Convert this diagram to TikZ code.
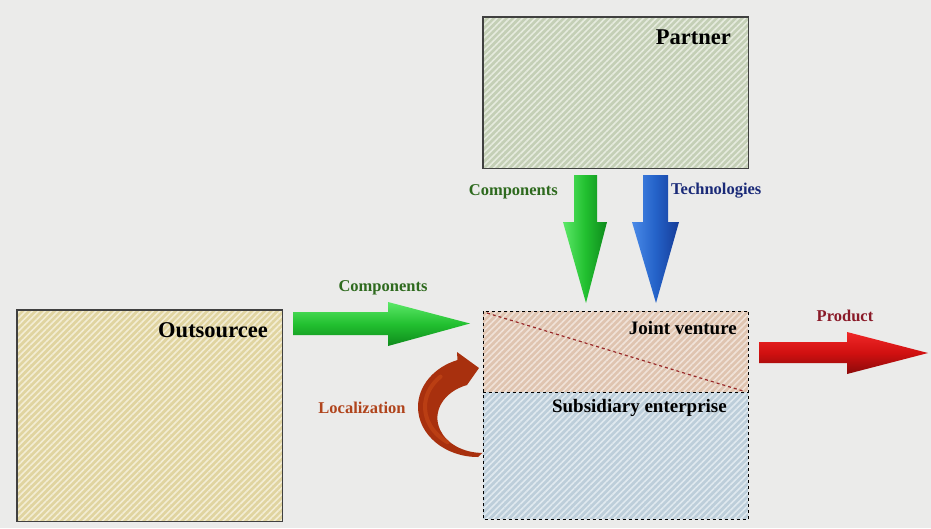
\documentclass[tikz,border=0pt]{standalone}
\usepackage{fontspec}
\setmainfont{Liberation Serif}
\usetikzlibrary{patterns.meta}
\definecolor{bg}{HTML}{EBEBEA}
\definecolor{partnerA}{HTML}{C4CFB6}\definecolor{partnerB}{HTML}{E6EBDE}
\definecolor{outA}{HTML}{E0D4A0}\definecolor{outB}{HTML}{F3EDD4}
\definecolor{jvA}{HTML}{DFC4B0}\definecolor{jvB}{HTML}{F0E2D8}
\definecolor{subA}{HTML}{BDCEDA}\definecolor{subB}{HTML}{E0E9EF}
\definecolor{txtgreen}{HTML}{2E6A1E}
\definecolor{txtblue}{HTML}{1A2A78}
\definecolor{txtorange}{HTML}{B0441C}
\definecolor{txtred}{HTML}{8A1A28}
\definecolor{diag}{HTML}{982828}
\definecolor{gLight}{HTML}{5CE868}\definecolor{gMid}{HTML}{22C030}\definecolor{gDark}{HTML}{0E8A1C}
\definecolor{bLight}{HTML}{4A8AE8}\definecolor{bMid}{HTML}{2462C8}\definecolor{bDark}{HTML}{163C98}
\definecolor{rLight}{HTML}{F02828}\definecolor{rMid}{HTML}{D01010}\definecolor{rDark}{HTML}{8A0A0A}
\definecolor{locBase}{HTML}{A8300E}\definecolor{locHi}{HTML}{D2501A}
\tikzset{
  hatchbox/.style 2 args={fill=#1, postaction={pattern={Lines[angle=45,distance=4.5pt,line width=1.6pt]}, pattern color=#2}},
  boxnode/.style={inner sep=0pt, anchor=north west},
  solidline/.style={draw=black!75, line width=1.4pt},
  dashline/.style={draw=black, dashed, line width=0.9pt},
  bigtxt/.style={font=\bfseries\fontsize{22.5}{24}\selectfont, inner sep=0pt},
  midtxt/.style={font=\bfseries\fontsize{19}{21}\selectfont, inner sep=0pt},
  smalltxt/.style={font=\bfseries\fontsize{16.5}{18}\selectfont, inner sep=0pt},
  greenH/.style={top color=gLight, bottom color=gDark, middle color=gMid},
  greenV/.style={left color=gLight, right color=gDark, middle color=gMid},
  blueV/.style={left color=bLight, right color=bDark, middle color=bMid},
  redH/.style={top color=rLight, bottom color=rDark, middle color=rMid},
}
\begin{document}
\begin{tikzpicture}[x=1pt,y=-1pt]
\fill[bg] (0,0) rectangle (931,528);
\useasboundingbox (0,0) rectangle (931,528);

% boxes
\node[boxnode, hatchbox={partnerA}{partnerB}, minimum width=265pt, minimum height=151pt] (partner) at (483,17) {};
\node[boxnode, hatchbox={outA}{outB}, minimum width=265pt, minimum height=211pt] (outs) at (17,310) {};
\node[boxnode, hatchbox={jvA}{jvB}, minimum width=265pt, minimum height=81pt] (jv) at (483,311) {};
\node[boxnode, hatchbox={subA}{subB}, minimum width=265pt, minimum height=127pt] (sub) at (483,392) {};
\draw[solidline] (partner.north west) rectangle (partner.south east);
\draw[solidline] (outs.north west) rectangle (outs.south east);
\draw[dashline] (jv.north west) rectangle (sub.south east);
\draw[dashline] (jv.south west) -- (jv.south east);
\draw[diag, dashed, line width=1.2pt] ([shift={(4pt,-2pt)}]jv.north west) -- ([shift={(-4pt,1pt)}]jv.south east);

% texts
\node[bigtxt, anchor=east] (tpartner) at (731,37) {Partner};
\node[bigtxt, anchor=east] (touts) at (268,330) {Outsourcee};
\node[midtxt, anchor=east] (tjv) at (737,328) {Joint venture};
\node[midtxt, anchor=east] (tsub) at (727,408) {Subsidiary enterprise};
\node[smalltxt, txtgreen, anchor=east] (tcomp1) at (558,192) {Components};
\node[smalltxt, txtblue, anchor=west] (ttech) at (671,191) {Technologies};
\node[smalltxt, txtgreen] (tcomp2) at (383,288) {Components};
\node[smalltxt, txtorange] (tloc) at (362,408) {Localization};
\node[smalltxt, txtred] (tprod) at (845,316) {Product};

% horizontal green arrow
\coordinate (gtip) at (470,323.5);
\shade[greenH] (293,312) -- (388,312) -- (388,302) -- (gtip) -- (388,346) -- (388,335) -- (293,335) -- cycle;
% green down arrow
\coordinate (gdtip) at (586,303);
\shade[greenV] (574,175) -- (597,175) -- (597,222) -- (607,222) -- (gdtip) -- (563,222) -- (574,222) -- cycle;
% blue down arrow
\coordinate (bdtip) at (656,303);
\shade[blueV] (643,175) -- (668,175) -- (668,222) -- (679,222) -- (bdtip) -- (632,222) -- (643,222) -- cycle;
% red product arrow
\coordinate (rtip) at (928,353);
\shade[redH] (759,342) -- (847,342) -- (847,332) -- (rtip) -- (847,374) -- (847,363) -- (759,363) -- cycle;
% curved localization arrow
\coordinate (lc) at (478,407);
\fill[locBase]
  (478,457) arc[start angle=90, end angle=250, x radius=60, y radius=50]
  -- (457,352) -- (479,368) -- (467,385)
  arc[start angle=250, end angle=90, x radius=45, y radius=35] -- cycle;
\draw[locHi, line width=4pt, opacity=0.45, line cap=round]
  (lc) ++(125:53 and 43) arc[start angle=125, end angle=225, x radius=53, y radius=43];
\end{tikzpicture}
\end{document}
